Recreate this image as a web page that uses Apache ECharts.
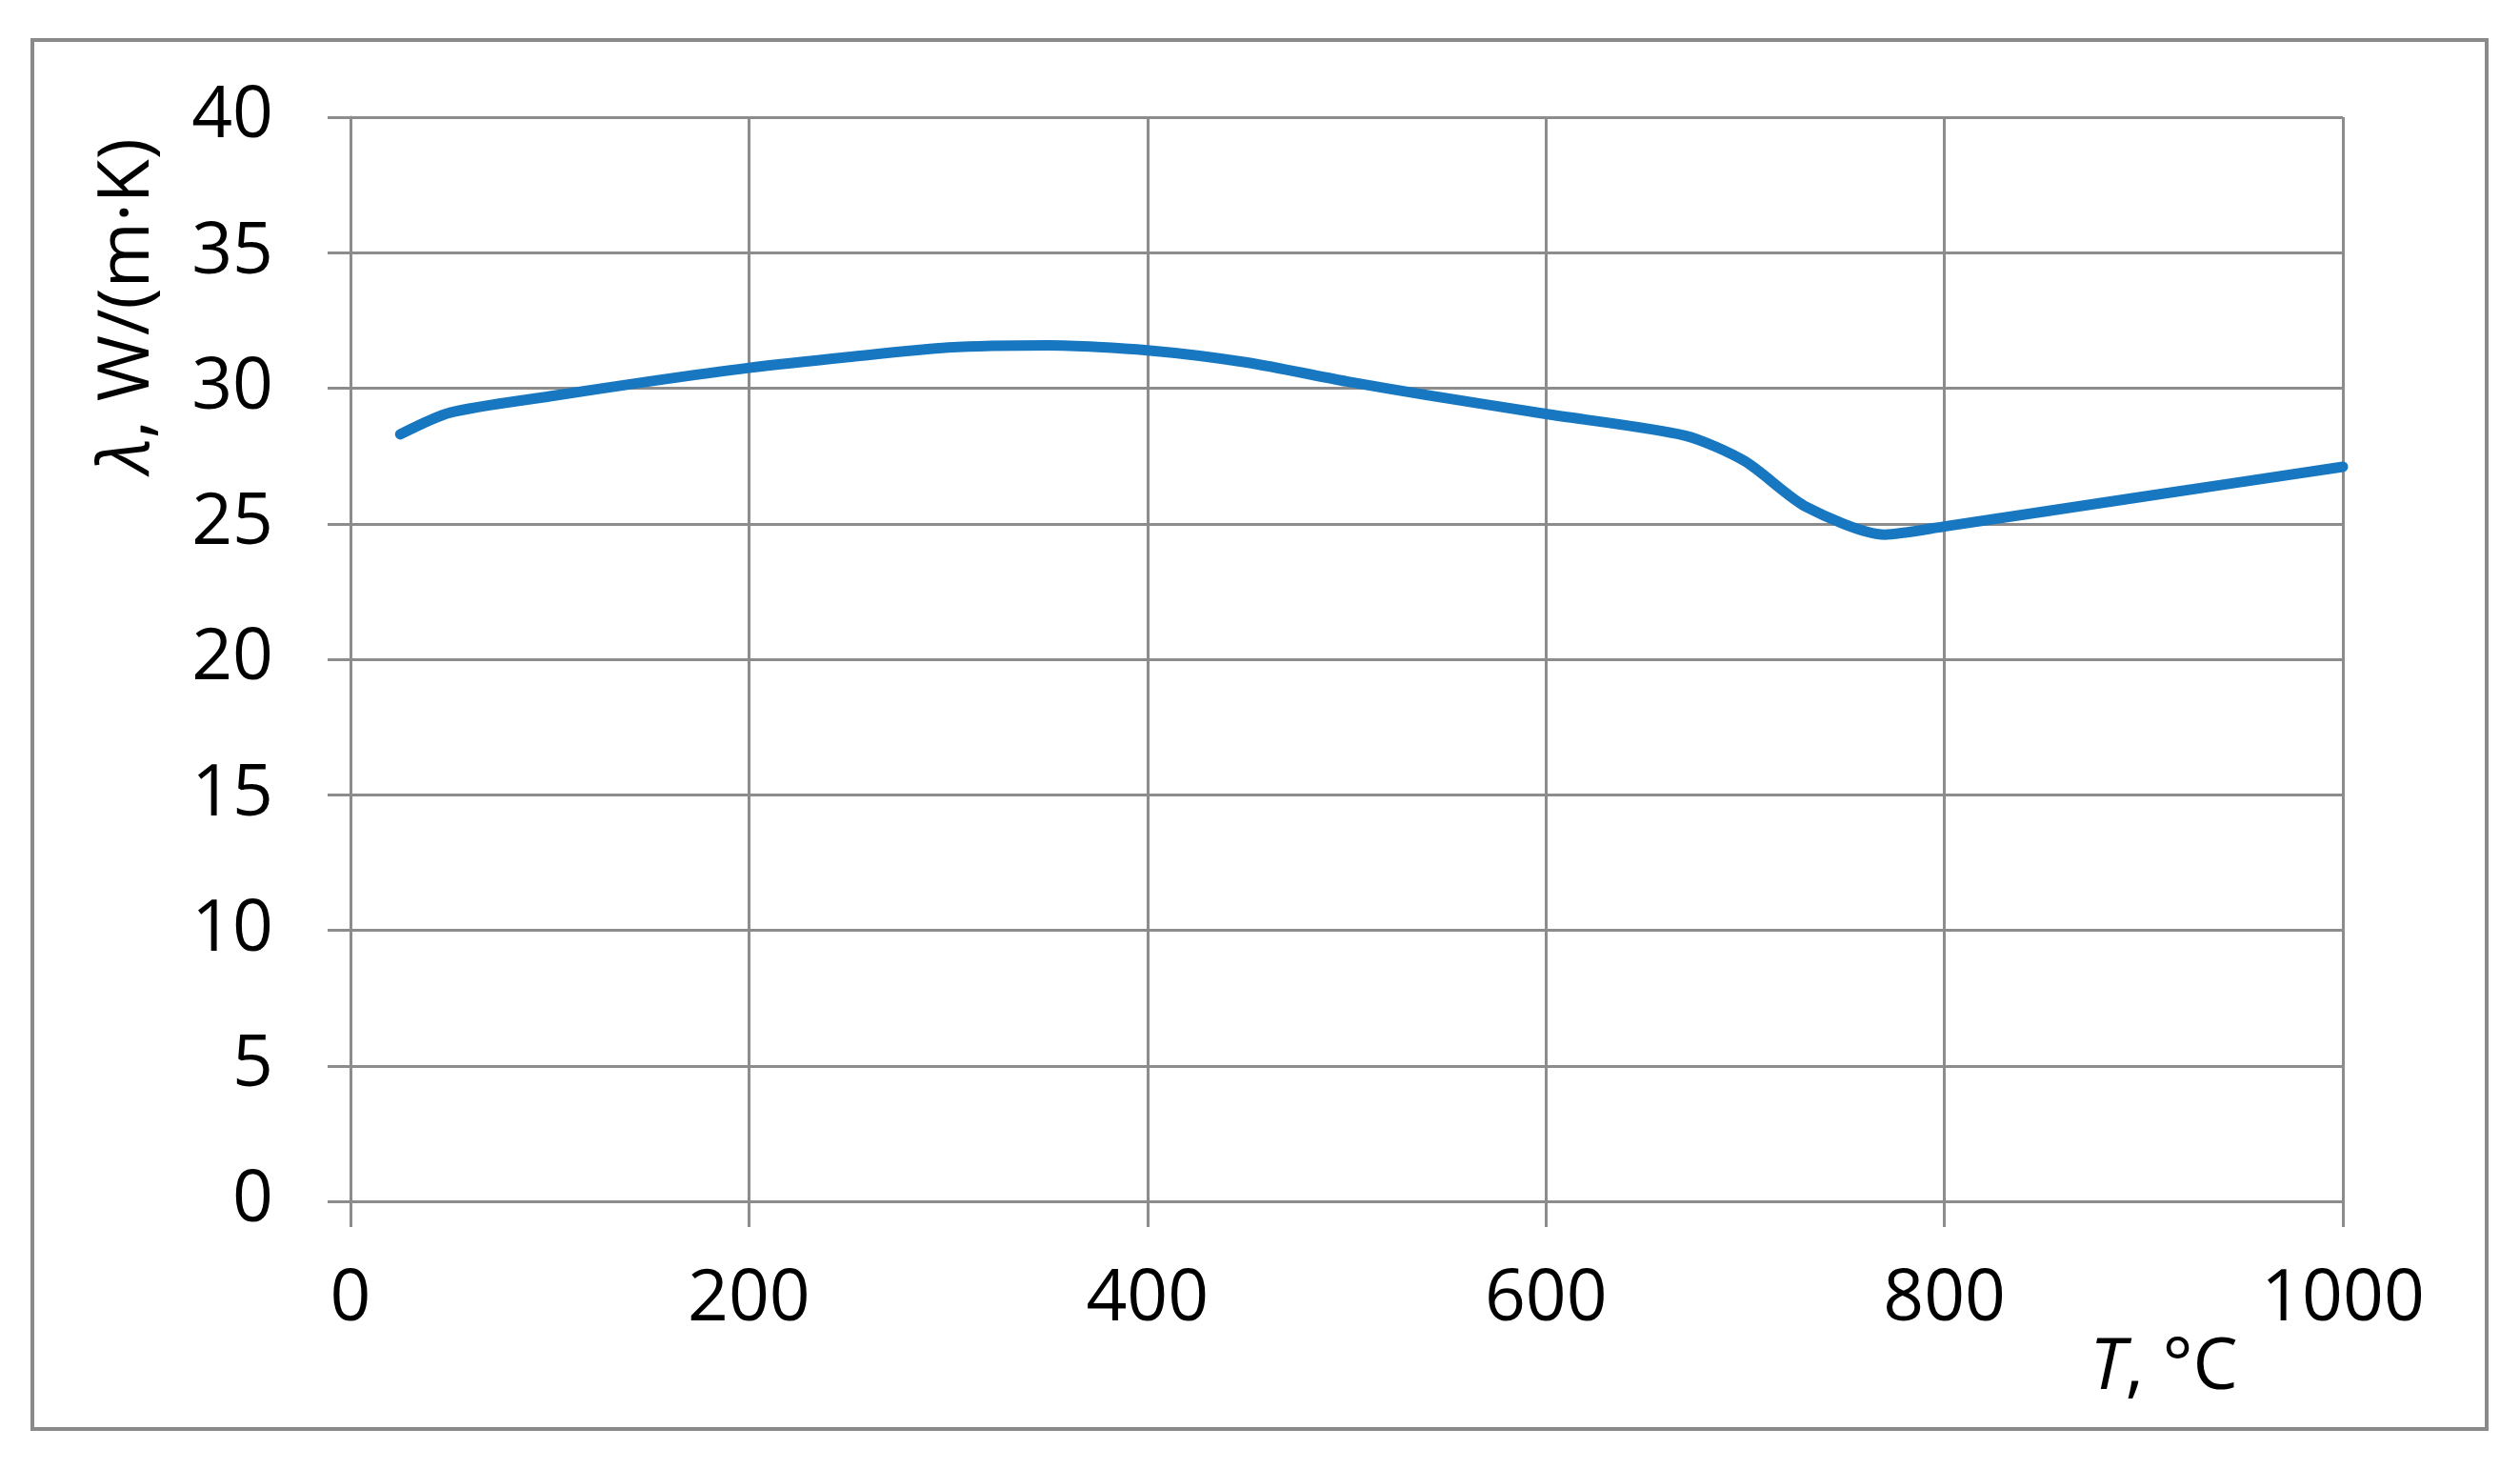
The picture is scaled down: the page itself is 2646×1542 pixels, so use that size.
<!DOCTYPE html>
<html>
<head>
<meta charset="utf-8">
<script src="https://cdn.jsdelivr.net/npm/echarts@6/dist/echarts.min.js"></script>
<style>
html,body{margin:0;padding:0;background:#fff;}
#chart{width:2646px;height:1542px;}
</style>
</head>
<body>
<div id="chart"></div>
<script>
// Data
var temperatures = [25, 50, 100, 150, 200, 250, 300, 350, 400, 450, 500, 540, 600, 670, 700, 730, 770, 800, 900, 1000];
var conductivity = [28.3, 29.1, 29.7, 30.25, 30.75, 31.15, 31.5, 31.58, 31.4, 30.95, 30.25, 29.75, 29.05, 28.25, 27.3, 25.65, 24.6, 24.9, 26.0, 27.1];
var xTicks = [0, 200, 400, 600, 800, 1000];
var yTicks = [0, 5, 10, 15, 20, 25, 30, 35, 40];

var FONT = '"Open Sans", "Noto Sans", sans-serif';
var GRID_COLOR = '#8c8c8c';

var seriesData = temperatures.map(function (t, i) { return [t, conductivity[i]]; });

var chart = echarts.init(document.getElementById('chart'));
chart.setOption({
  backgroundColor: '#ffffff',
  animation: false,
  grid: { left: 368, right: 186, top: 123, bottom: 281, containLabel: false },
  xAxis: {
    type: 'value',
    min: xTicks[0],
    max: xTicks[xTicks.length - 1],
    interval: 200,
    axisLine: { show: true, lineStyle: { color: GRID_COLOR, width: 3 } },
    axisTick: { show: true, length: 27, lineStyle: { color: GRID_COLOR, width: 3 } },
    splitLine: { show: true, lineStyle: { color: GRID_COLOR, width: 3 } },
    axisLabel: { color: '#000', fontSize: 75, fontFamily: FONT, margin: 66,
      formatter: function (v) { return String(v); } }
  },
  yAxis: {
    type: 'value',
    min: yTicks[0],
    max: yTicks[yTicks.length - 1],
    interval: 5,
    axisLine: { show: true, lineStyle: { color: GRID_COLOR, width: 3 } },
    axisTick: { show: true, length: 24, lineStyle: { color: GRID_COLOR, width: 3 } },
    splitLine: { show: true, lineStyle: { color: GRID_COLOR, width: 3 } },
    axisLabel: { color: '#000', fontSize: 75, fontFamily: FONT, margin: 81,
      formatter: function (v) { return String(v); } }
  },
  graphic: [
    {
      type: 'rect',
      shape: { x: 34, y: 42, width: 2577, height: 1458 },
      style: { fill: 'none', stroke: '#8a8a8a', lineWidth: 4 },
      silent: true, z: -1
    },
    {
      type: 'text',
      x: 135, y: 321,
      rotation: Math.PI / 2,
      style: {
        text: '{i|λ}, W/(m·K)',
        align: 'center', verticalAlign: 'middle',
        fill: '#000', fontSize: 75, fontFamily: FONT,
        rich: { i: { fontStyle: 'italic', fontSize: 75, fontFamily: FONT, fill: '#000' } }
      }
    },
    {
      type: 'text',
      x: 2272, y: 1437,
      style: {
        text: '{i|T}, °C',
        align: 'center', verticalAlign: 'middle',
        fill: '#000', fontSize: 75, fontFamily: FONT,
        rich: { i: { fontStyle: 'italic', fontSize: 75, fontFamily: FONT, fill: '#000' } }
      }
    }
  ],
  series: [{
    type: 'line',
    data: seriesData,
    smooth: 0.25,
    showSymbol: false,
    lineStyle: { color: '#1777C0', width: 11, cap: 'round', join: 'round' },
    itemStyle: { color: '#1777C0' }
  }]
});
</script>
</body>
</html>
